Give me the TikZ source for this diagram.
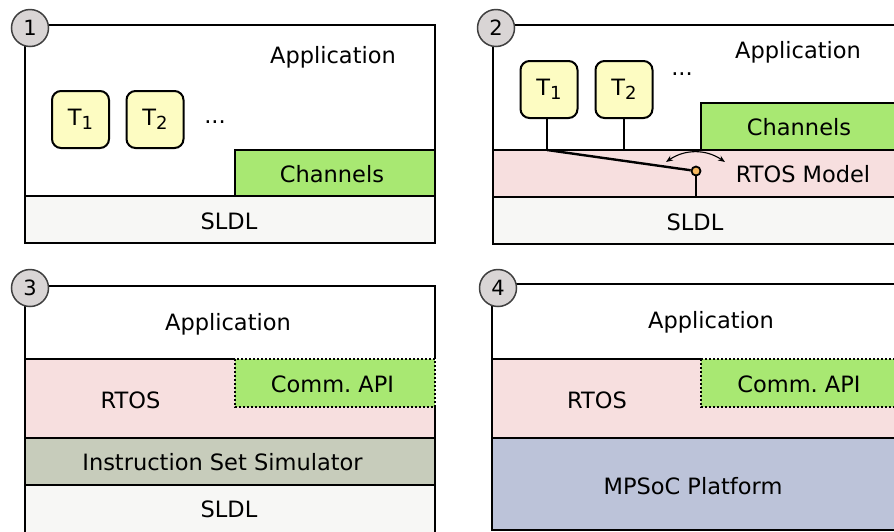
\documentclass[tikz,border=0pt]{standalone}
\usepackage{fontspec}
\setmainfont{DejaVu Sans}
\usetikzlibrary{arrows.meta}
\definecolor{chgreen}{HTML}{A8E872}
\definecolor{rtospink}{HTML}{F7DFDF}
\definecolor{sldlgray}{HTML}{F7F7F5}
\definecolor{issgray}{HTML}{C7CCBB}
\definecolor{mpsocblue}{HTML}{BCC3D9}
\definecolor{taskyellow}{HTML}{FDFCC2}
\definecolor{badgegray}{HTML}{D9D5D5}
\definecolor{switchorange}{HTML}{F7B860}
\newcommand\taskname[1]{T\raisebox{-4pt}{\fontsize{18}{18}\selectfont #1}}

\begin{document}
\begin{tikzpicture}[x=1pt,y=-1pt,
  frame/.style={draw=black, line width=2.4pt},
  dotframe/.style={draw=black, line width=2.4pt, dash pattern=on 2pt off 2pt},
  txt/.style={anchor=base, font=\fontsize{22.5}{27}\selectfont, inner sep=0pt},
  task/.style={draw=black, line width=2pt, fill=taskyellow, rounded corners=9pt,
    minimum width=57pt, minimum height=57pt, inner sep=0pt,
    font=\fontsize{22.5}{27}\selectfont},
  badge/.style={circle, draw=black!75, line width=1.5pt, fill=badgegray,
    minimum size=37pt, inner sep=0pt, font=\fontsize{21}{25}\selectfont},
  wire/.style={line width=2.4pt},
  swing/.style={<->, line width=1.1pt, >={Stealth[length=7pt,width=5.5pt]}},
]
\useasboundingbox (0,0) rectangle (894,531);
\clip (0,0) rectangle (894,531);

% ---- 1: application on the SLDL kernel
\draw[frame, fill=white] (25,25) rectangle (435,243);
\draw[frame, fill=chgreen] (235,150) rectangle (435,196);
\draw[frame, fill=sldlgray] (25,196) rectangle (435,243);
\node[txt] (app1) at (333,63) {Application};
\node[txt] (ch1) at (332,182) {Channels};
\node[txt] (sldl1) at (229,229) {SLDL};
\node[task] (t11) at (80.5,119.5) {\taskname{1}};
\node[task] (t12) at (155,119.5) {\taskname{2}};
\node[txt] (dots1) at (215,123) {...};

% ---- 2: tasks on an abstract RTOS model
\draw[frame, fill=white] (493,25) rectangle (920,244);
\draw[frame, fill=chgreen] (701,103) rectangle (920,150);
\draw[frame, fill=rtospink] (493,150) rectangle (920,197);
\draw[frame, fill=sldlgray] (493,197) rectangle (920,244);
\node[txt] (app2) at (798,58) {Application};
\node[txt] (ch2) at (799,135) {Channels};
\node[txt] (rtos2) at (803,182) {RTOS Model};
\node[txt] (sldl2) at (695,230) {SLDL};
\node[task] (t21) at (549,89.5) {\taskname{1}};
\node[task] (t22) at (624,89.5) {\taskname{2}};
\node[txt] (dots2) at (682,75) {...};
\coordinate (j21) at (547,150);
\coordinate (j22) at (624,150);
\coordinate (sbase) at (696,197);
\node[circle, draw=black, line width=1.8pt, fill=switchorange,
  minimum size=9pt, inner sep=0pt] (sw) at (696,171) {};
\draw[wire] (t21.south -| j21) -- (j21);
\draw[wire] (t22.south) -- (j22);
\draw[wire] (j21) -- (sw);
\draw[wire] (sw) -- (sbase);
\draw[swing] (666,162) .. controls (685,149) and (706,149) .. (725,162);

% ---- 3: target software on an instruction set simulator
\fill[white] (25,286) rectangle (435,359);
\fill[rtospink] (25,359) rectangle (435,438);
\fill[chgreen] (235,359) rectangle (435,407);
\fill[issgray] (25,438) rectangle (435,485);
\fill[sldlgray] (25,485) rectangle (435,540);
\draw[frame] (25,359) -- (235,359);
\draw[frame] (25,438) -- (435,438);
\draw[frame] (25,485) -- (435,485);
\draw[frame] (435,407) -- (435,540) -- (25,540) -- (25,286) -- (435,286) -- (435,359);
\draw[dotframe] (235,359) rectangle (435,407);
\node[txt] (app3) at (228,330) {Application};
\node[txt] (rtos3) at (130.5,408) {RTOS};
\node[txt] (api3) at (332.5,392) {Comm.\ API};
\node[txt] (iss3) at (222.5,470) {Instruction Set Simulator};
\node[txt] (sldl3) at (229,517) {SLDL};

% ---- 4: target software on the MPSoC platform
\fill[white] (492,284) rectangle (920,359);
\fill[rtospink] (492,359) rectangle (920,438);
\fill[chgreen] (701,359) rectangle (920,407);
\fill[mpsocblue] (492,438) rectangle (920,530);
\draw[frame] (492,359) -- (701,359);
\draw[frame] (492,438) -- (920,438);
\draw[frame] (920,284) -- (492,284) -- (492,530) -- (920,530);
\draw[dotframe] (701,359) rectangle (920,407);
\node[txt] (app4) at (711,328) {Application};
\node[txt] (rtos4) at (597,408) {RTOS};
\node[txt] (api4) at (799,392) {Comm.\ API};
\node[txt] (mpsoc4) at (693,494) {MPSoC Platform};

% ---- step badges
\node[badge] (b1) at (30,28) {1};
\node[badge] (b2) at (496,28) {2};
\node[badge] (b3) at (30,288) {3};
\node[badge] (b4) at (498,288) {4};
\end{tikzpicture}
\end{document}
